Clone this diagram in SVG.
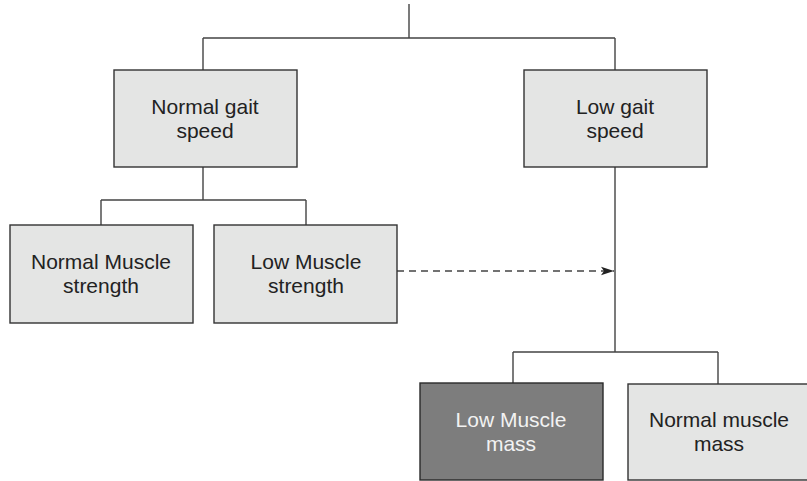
<svg xmlns="http://www.w3.org/2000/svg" width="807" height="481" viewBox="0 0 807 481">
<style>
.box{fill:#e4e5e4;stroke:#333;stroke-width:1.4}
.dark{fill:#7d7d7d;stroke:#2a2a2a;stroke-width:1.4}
.ln{fill:none;stroke:#444;stroke-width:1.4}
.t{font-family:"Liberation Sans",Arial,sans-serif;font-size:21px;fill:#222;text-anchor:middle}
.tw{fill:#f2f2f2}
</style>
<defs>
<marker id="ah" markerWidth="14" markerHeight="10" refX="13" refY="5" orient="auto" markerUnits="userSpaceOnUse">
<path d="M0,0.8 L13,5 L0,9.2 L3,5 Z" fill="#222"/>
</marker>
</defs>
<rect width="807" height="481" fill="#fff"/>
<g id="connectors">
<path class="ln" d="M409,4 V38 M203,38 H615 M203,38 V70 M615,38 V70"/>
<path class="ln" d="M203,167 V200 M101,200 H306 M101,200 V225 M306,200 V225"/>
<path class="ln" d="M615,167 V352 M513,352 H718 M513,352 V383 M718,352 V384"/>
<path class="ln" d="M397,271 H614" stroke-dasharray="7,5" marker-end="url(#ah)"/>
</g>
<g id="normal-gait">
<rect class="box" x="114" y="70" width="183" height="97"/>
<text class="t" x="205" y="114">Normal gait</text>
<text class="t" x="205" y="138">speed</text>
</g>
<g id="low-gait">
<rect class="box" x="524" y="70" width="183" height="97"/>
<text class="t" x="615" y="114">Low gait</text>
<text class="t" x="615" y="138">speed</text>
</g>
<g id="normal-strength">
<rect class="box" x="10" y="225" width="183" height="98"/>
<text class="t" x="101" y="269">Normal Muscle</text>
<text class="t" x="101" y="293">strength</text>
</g>
<g id="low-strength">
<rect class="box" x="214" y="225" width="183" height="98"/>
<text class="t" x="306" y="269">Low Muscle</text>
<text class="t" x="306" y="293">strength</text>
</g>
<g id="low-mass">
<rect class="dark" x="420" y="383" width="183" height="97"/>
<text class="t tw" x="511" y="427">Low Muscle</text>
<text class="t tw" x="511" y="451">mass</text>
</g>
<g id="normal-mass">
<rect class="box" x="628" y="384" width="183" height="96"/>
<text class="t" x="719" y="427">Normal muscle</text>
<text class="t" x="719" y="451">mass</text>
</g>
</svg>
